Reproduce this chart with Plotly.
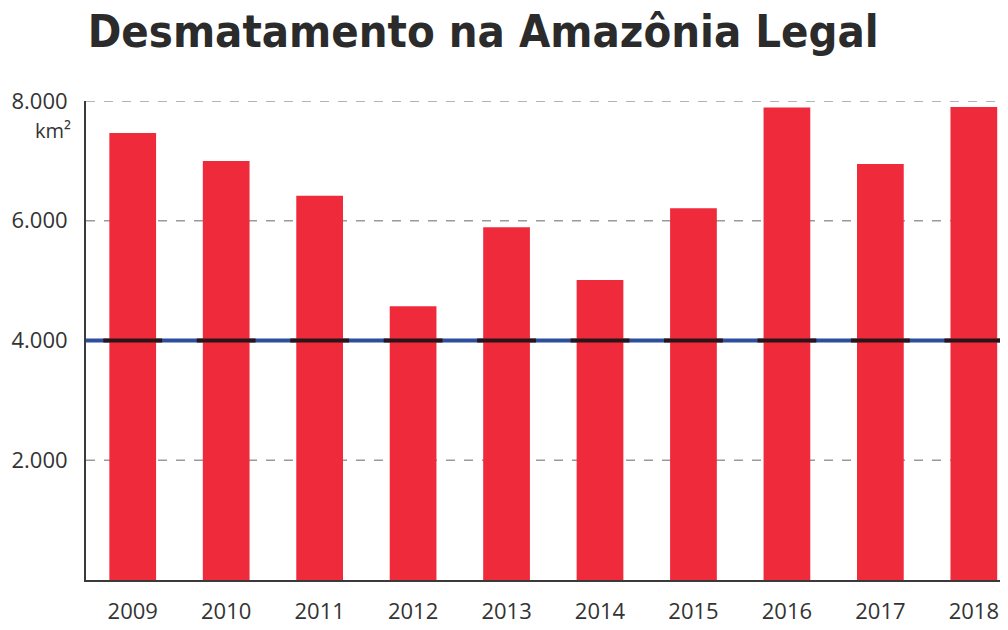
import plotly.graph_objects as go

years = ["2009", "2010", "2011", "2012", "2013", "2014", "2015", "2016", "2017", "2018"]
area_km2 = [7464, 7000, 6418, 4571, 5891, 5012, 6207, 7893, 6947, 7900]
reference_level = 4000
y_ticks = [2000, 4000, 6000, 8000]
y_tick_labels = ["2.000", "4.000", "6.000", "8.000"]

fig = go.Figure()
fig.add_trace(go.Bar(x=years, y=area_km2, marker=dict(color="#ef2a3b", line=dict(width=0)),
                     width=0.5, hoverinfo="x+y"))
# dark overlap of the reference line on bars
fig.add_trace(go.Scatter(x=years, y=[reference_level] * len(years), mode="markers",
                         marker=dict(symbol="line-ew", size=42, line=dict(width=4, color="#2a1418")),
                         hoverinfo="skip"))

# dashed gridlines
for v in [2000, 6000, 8000]:
    fig.add_shape(type="line", xref="paper", x0=0, x1=1, yref="y", y0=v, y1=v,
                  line=dict(color="#9a9a9a", width=1.5, dash="dash"), layer="below")
# reference line
fig.add_shape(type="line", xref="paper", x0=0, x1=1, yref="y", y0=reference_level, y1=reference_level,
              line=dict(color="#2b4f9e", width=4), layer="below")

fig.add_annotation(text="km²", xref="paper", x=0, xanchor="right", xshift=-13,
                   yref="y", y=7500, showarrow=False,
                   font=dict(family="Open Sans", size=20, color="#333333"))

fig.update_layout(
    width=1008, height=630,
    margin=dict(l=86, r=8, t=101, b=50, autoexpand=False),
    paper_bgcolor="white", plot_bgcolor="white",
    showlegend=False,
    title=dict(text="<b>Desmatamento na Amazônia Legal</b>", x=0.087, xanchor="left",
               y=0.95, yanchor="middle",
               font=dict(family="DejaVu Sans Condensed", size=45, color="#2b2b2b")),
    xaxis=dict(type="category", range=[-0.5, 9.28], showgrid=False, automargin=False,
               showline=True, linecolor="#3a3a3a", linewidth=2,
               ticks="outside", ticklen=11, tickcolor="rgba(0,0,0,0)",
               tickfont=dict(family="Open Sans", size=22, color="#333333")),
    yaxis=dict(range=[0, 8000], showgrid=False, zeroline=False, automargin=False,
               showline=True, linecolor="#3a3a3a", linewidth=2,
               tickvals=y_ticks, ticktext=y_tick_labels,
               ticks="outside", ticklen=12, tickcolor="rgba(0,0,0,0)",
               tickfont=dict(family="Open Sans", size=22, color="#333333")),
    bargap=0.5,
)

fig.write_html("out.html")
